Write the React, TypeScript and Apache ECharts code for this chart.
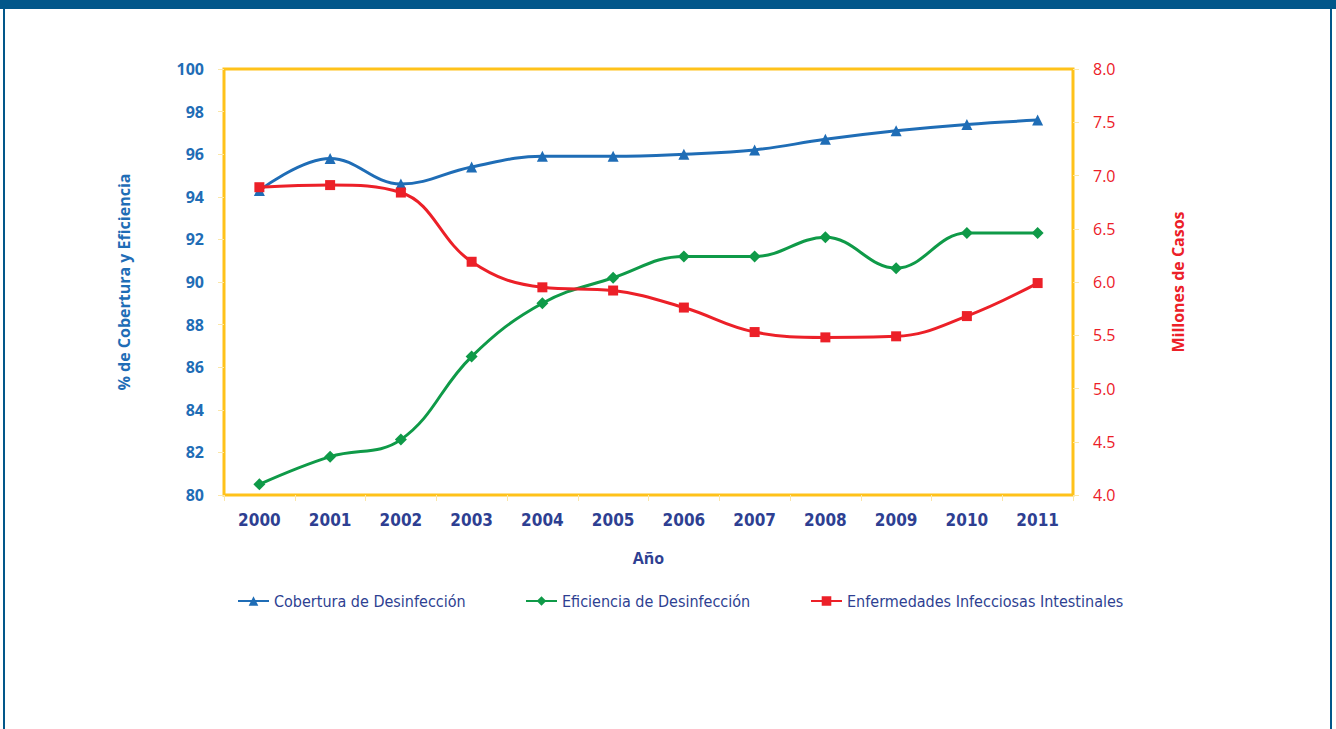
import React, { useEffect, useRef } from "react";
import * as echarts from "echarts";

const years = ["2000", "2001", "2002", "2003", "2004", "2005", "2006", "2007", "2008", "2009", "2010", "2011"];
const cobertura = [94.3, 95.8, 94.6, 95.4, 95.9, 95.9, 96.0, 96.2, 96.7, 97.1, 97.4, 97.6];
const eficiencia = [80.5, 81.8, 82.6, 86.5, 89.0, 90.2, 91.2, 91.2, 92.1, 90.65, 92.3, 92.3];
const enfermedades = [6.89, 6.91, 6.84, 6.19, 5.95, 5.92, 5.76, 5.53, 5.48, 5.49, 5.68, 5.99];

const names = ["Cobertura de Desinfección", "Eficiencia de Desinfección", "Enfermedades Infecciosas Intestinales"];

const BLUE = "#1f6db6";
const GREEN = "#0f9a48";
const RED = "#ec2028";
const NAVY = "#2e3f92";
const YELLOW = "#ffc21a";
const TICK = "#fbe7a8";
const FRAME = "#02578a";
const NARROW = "'DejaVu Sans Condensed', 'Liberation Sans Narrow', 'Open Sans', sans-serif";
const SANS = "'Open Sans', 'Noto Sans', sans-serif";

export default function App() {
  const ref = useRef<HTMLDivElement>(null);
  useEffect(() => {
    if (!ref.current) return;
    const chart = echarts.init(ref.current, null, { renderer: "svg" });
    const legendBase = {
      top: 588,
      itemWidth: 31,
      itemHeight: 12,
      itemGap: 0,
      textStyle: { color: NAVY, fontSize: 16, fontFamily: NARROW },
      selectedMode: false,
    };
    chart.setOption({
      animation: false,
      backgroundColor: "#ffffff",
      graphic: [
        { type: "rect", shape: { x: 0, y: 0, width: 1336, height: 9 }, style: { fill: FRAME } },
        { type: "rect", shape: { x: 3, y: 0, width: 2, height: 729 }, style: { fill: FRAME } },
        { type: "rect", shape: { x: 1330, y: 0, width: 2, height: 729 }, style: { fill: FRAME } },
      ],
      grid: {
        left: 224,
        right: 1336 - 1073,
        top: 69,
        height: 426,
        show: true,
        borderColor: YELLOW,
        borderWidth: 3,
        backgroundColor: "transparent",
      },
      legend: [
        { ...legendBase, left: 232, data: [names[0]] },
        { ...legendBase, left: 520, data: [names[1]] },
        { ...legendBase, left: 805, data: [names[2]] },
      ],
      xAxis: {
        type: "category",
        data: years,
        boundaryGap: true,
        axisLine: { show: false },
        axisTick: { show: true, inside: false, length: 6, lineStyle: { color: TICK } },
        axisLabel: { color: NAVY, fontSize: 17, fontWeight: "bold", fontFamily: NARROW, margin: 16 },
        name: "Año",
        nameLocation: "middle",
        nameGap: 55,
        nameTextStyle: { color: NAVY, fontSize: 16, fontWeight: "bold", fontFamily: SANS },
        splitLine: { show: false },
      },
      yAxis: [
        {
          type: "value",
          min: 80,
          max: 100,
          interval: 2,
          position: "left",
          axisLine: { show: false },
          axisTick: { show: true, length: 6, lineStyle: { color: TICK } },
          axisLabel: { color: BLUE, fontSize: 16, fontWeight: "bold", fontFamily: SANS, margin: 20 },
          splitLine: { show: false },
          name: "% de Cobertura y Eficiencia",
          nameLocation: "middle",
          nameGap: 92,
          nameTextStyle: { color: BLUE, fontSize: 16, fontWeight: "bold", fontFamily: SANS },
        },
        {
          type: "value",
          min: 4,
          max: 8,
          interval: 0.5,
          position: "right",
          axisLine: { show: false },
          axisTick: { show: true, length: 6, lineStyle: { color: TICK } },
          axisLabel: {
            color: RED,
            fontSize: 16,
            fontFamily: SANS,
            margin: 20,
            formatter: (v: number) => v.toFixed(1),
          },
          splitLine: { show: false },
          name: "Millones de Casos",
          nameLocation: "middle",
          nameGap: 97,
          nameRotate: 90,
          nameTextStyle: { color: RED, fontSize: 16, fontWeight: "bold", fontFamily: SANS },
        },
      ],
      series: [
        {
          name: names[0],
          type: "line",
          yAxisIndex: 0,
          data: cobertura,
          smooth: 0.4,
          symbol: "triangle",
          symbolSize: 11,
          itemStyle: { color: BLUE },
          lineStyle: { color: BLUE, width: 3 },
          z: 3,
        },
        {
          name: names[1],
          type: "line",
          yAxisIndex: 0,
          data: eficiencia,
          smooth: 0.4,
          symbol: "diamond",
          symbolSize: 12,
          itemStyle: { color: GREEN },
          lineStyle: { color: GREEN, width: 3 },
          z: 2,
        },
        {
          name: names[2],
          type: "line",
          yAxisIndex: 1,
          data: enfermedades,
          smooth: 0.4,
          symbol: "rect",
          symbolSize: 10,
          itemStyle: { color: RED },
          lineStyle: { color: RED, width: 3 },
          z: 4,
        },
      ],
    });
    return () => chart.dispose();
  }, []);
  return (
    <div
      ref={ref}
      style={{ position: "absolute", left: 0, top: 0, width: 1336, height: 729, background: "#fff" }}
    />
  );
}
